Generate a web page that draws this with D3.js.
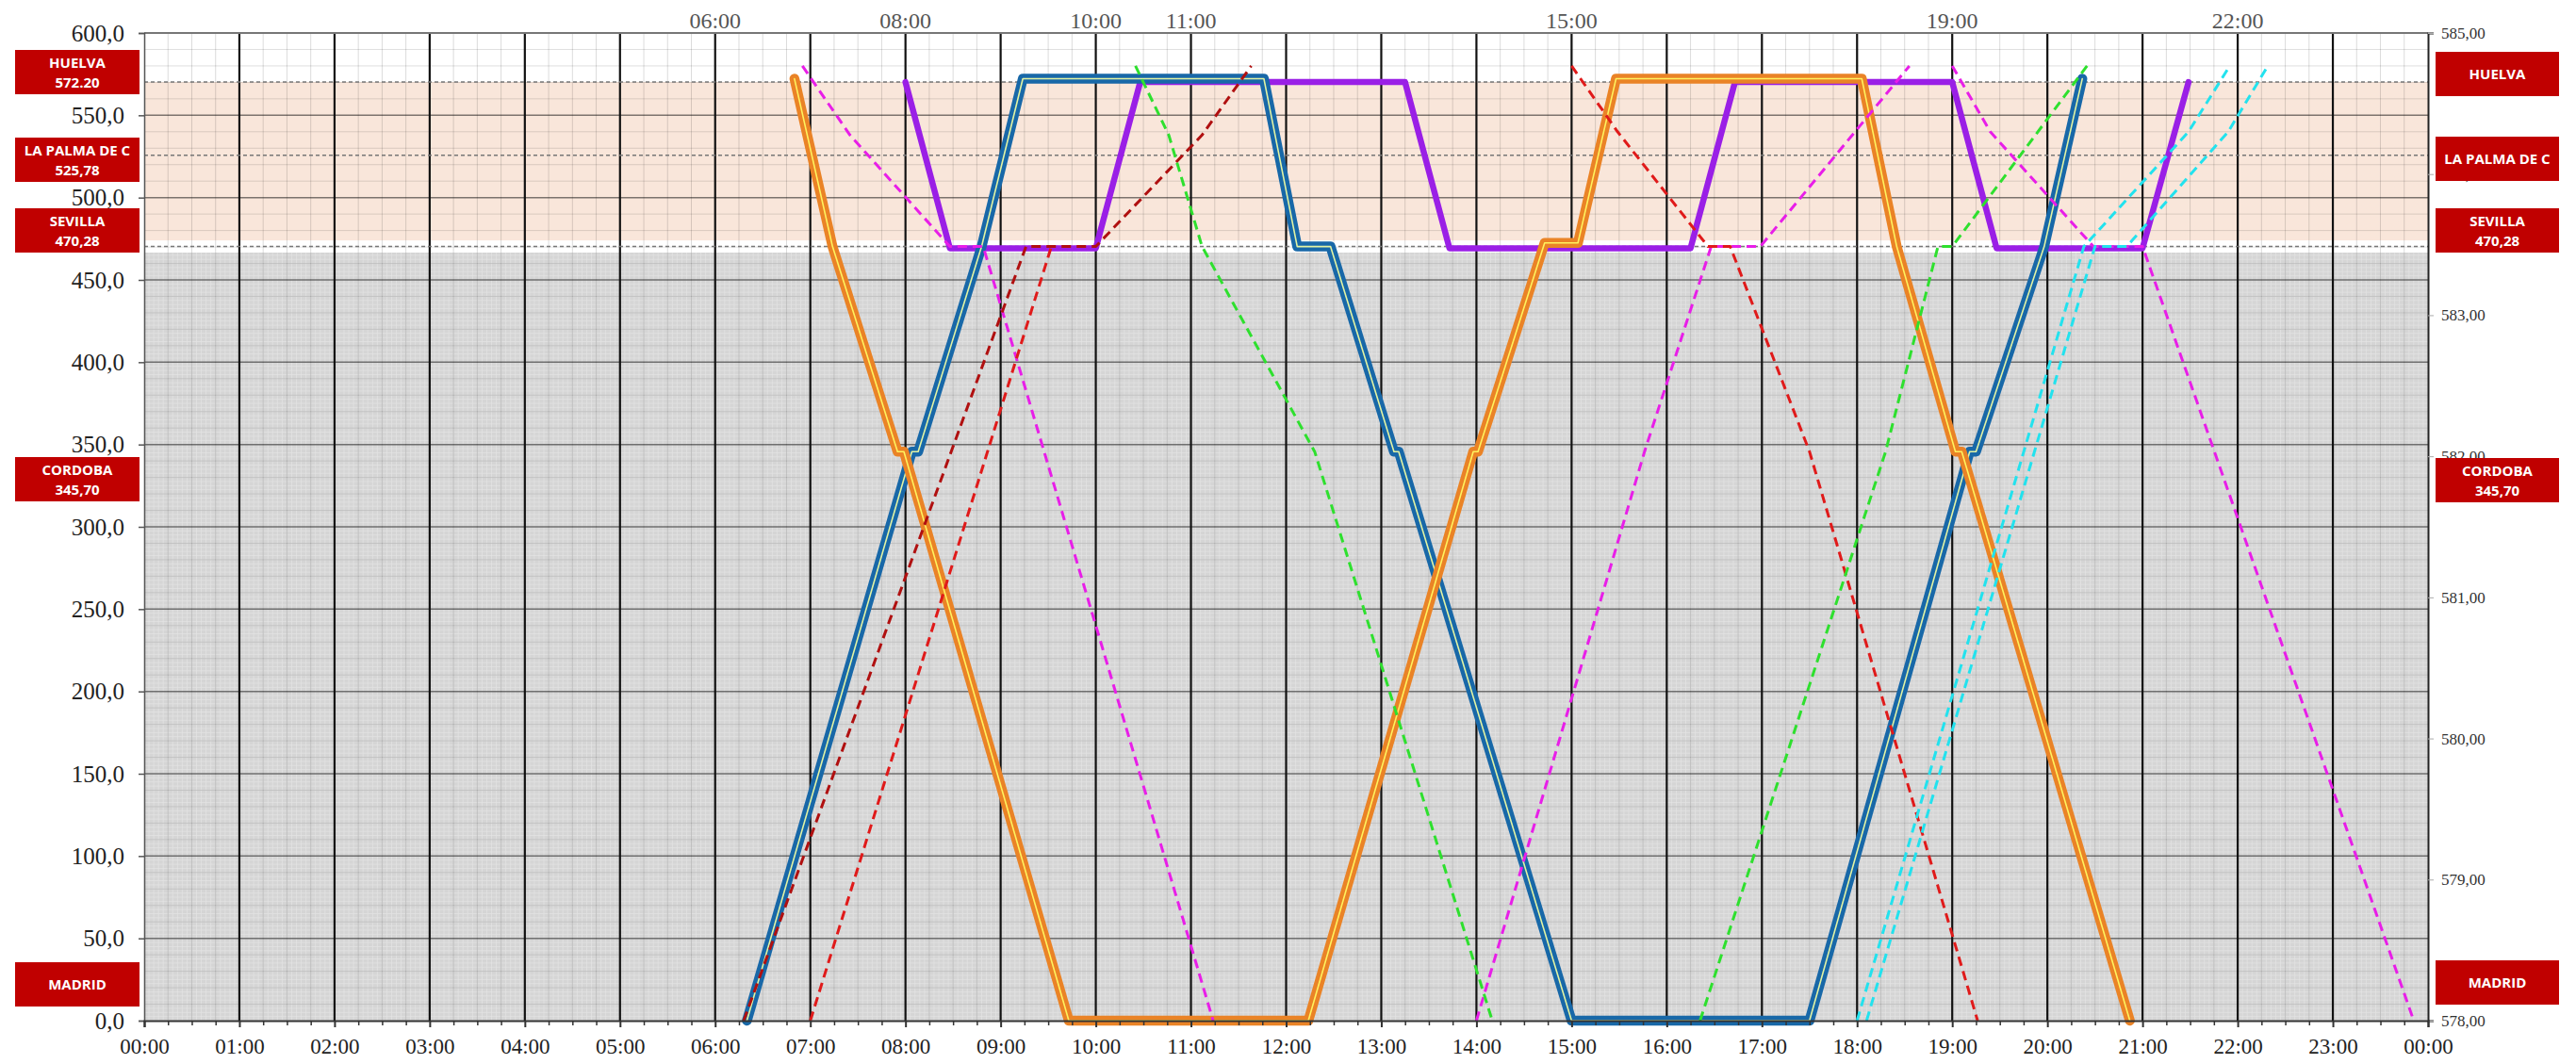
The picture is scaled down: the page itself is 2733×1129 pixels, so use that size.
<!DOCTYPE html>
<html>
<head>
<meta charset="utf-8">
<script src="https://cdn.jsdelivr.net/npm/d3@7"></script>
<style>
  body { margin: 0; background: #fff; }
  svg text { font-family: "Liberation Serif", "Times New Roman", serif; }
  .box text { font-family: "Open Sans", sans-serif; font-weight: 700; fill: #fff; }
</style>
</head>
<body>
<svg id="chart" width="2733" height="1129"></svg>
<script>
// ---- data (times as HH:MM, distance in km) ----
var stationNames = ["HUELVA", "LA PALMA DE C", "SEVILLA", "CORDOBA", "MADRID"];
var stationKm = [572.2, 525.78, 470.28, 345.7, 0];
var leftBoxText = [["HUELVA", "572.20"], ["LA PALMA DE C", "525,78"], ["SEVILLA", "470,28"], ["CORDOBA", "345,70"], ["MADRID"]];
var rightBoxText = [["HUELVA"], ["LA PALMA DE C"], ["SEVILLA", "470,28"], ["CORDOBA", "345,70"], ["MADRID"]];
var guideKm = [570.2, 525.78, 470.28];
var topTimeLabels = ["06:00", "08:00", "10:00", "11:00", "15:00", "19:00", "22:00"];

var blueTrain = [["06:20", 0], ["08:04", 345.7], ["08:08", 345.7], ["08:48", 470.28], ["09:14", 572.2],
  ["11:46", 572.2], ["12:07", 470.28], ["12:28", 470.28], ["13:08", 345.7], ["13:11", 345.7], ["15:00", 0],
  ["17:30", 0], ["19:11", 345.7], ["19:15", 345.7], ["19:58", 470.28], ["20:22", 572.2]];
var orangeTrain = [["06:50", 572.2], ["07:14", 470.28], ["07:55", 345.7], ["07:59", 345.7], ["09:43", 0],
  ["12:14", 0], ["13:58", 345.7], ["14:01", 345.7], ["14:43", 472.5], ["15:04", 472.5], ["15:28", 572.2],
  ["18:03", 572.2], ["18:25", 470.28], ["19:02", 345.7], ["19:06", 345.7], ["20:52", 0]];
var purpleTrain = [["08:00", 570.2], ["08:28", 469.2], ["10:00", 469.2], ["10:28", 570.2], ["13:15", 570.2],
  ["13:43", 469.2], ["16:15", 469.2], ["16:43", 570.2], ["19:00", 570.2], ["19:28", 469.2], ["21:00", 469.2],
  ["21:29", 570.2]];

var magentaTrains = [
  [["06:55", 580], ["07:25", 538], ["08:28", 470.28], ["08:49", 470.28], ["11:14", 0]],
  [["14:00", 0], ["15:46", 345.7], ["16:28", 470.28], ["16:59", 470.28], ["18:33", 580]],
  [["19:00", 580], ["19:24", 540], ["20:29", 470.28], ["21:00", 470.28], ["23:51", 0]]
];
var darkRedTrains = [
  [["06:18", 0], ["09:16", 470.28], ["10:00", 470.28], ["11:07", 538], ["11:38", 580]]
];
var redTrains = [
  [["07:00", 0], ["09:32", 470.28]],
  [["15:00", 580], ["15:29", 540], ["16:26", 470.28], ["16:40", 470.28], ["17:30", 345.7], ["19:16", 0]]
];
var greenTrains = [
  [["10:25", 580], ["10:46", 538], ["11:07", 470.28], ["12:18", 345.7], ["14:10", 0]],
  [["16:21", 0], ["18:18", 345.7], ["18:51", 470.28], ["19:00", 470.28], ["20:25", 580]]
];
var cyanTrains = [
  [["18:00", 0], ["20:23", 470.28], ["21:29", 540], ["21:55", 580]],
  [["18:06", 0], ["20:30", 470.28], ["20:50", 470.28], ["21:54", 540], ["22:19", 580]]
];

// ---- layout ----
var plotL = 153, plotR = 2576, plotT = 35, plotB = 1083;
var leftBoxY = [77, 170, 245, 509, 1045];
var rightBoxY = [79, 169, 245, 510, 1043];

function toH(s) {
  var p = s.split(":").map(Number);
  return p[0] + p[1] / 60;
}

var x = d3.scaleLinear().domain([0, 24]).range([plotL, plotR]);
var y = d3.scaleLinear().domain([0, 600]).range([plotB, plotT]);
var y2 = d3.scaleLinear().domain([578, 585]).range([plotB, plotT]);

var svg = d3.select("#chart");

// backgrounds
svg.append("rect").attr("x", plotL).attr("y", plotT).attr("width", plotR - plotL).attr("height", plotB - plotT)
  .attr("fill", "#fff");
svg.append("rect").attr("x", plotL).attr("y", y(570.2)).attr("width", plotR - plotL)
  .attr("height", y(474) - y(570.2)).attr("fill", "#f9e6da");
svg.append("rect").attr("x", plotL).attr("y", y(466.6)).attr("width", plotR - plotL)
  .attr("height", y(0) - y(466.6)).attr("fill", "#d5d5d5");

// fine graph-paper grid in the grey zone
var fine = svg.append("g").attr("stroke", "#ececec").attr("stroke-width", 0.8).attr("opacity", 0.6);
fine.selectAll("line.fv").data(d3.range(0, 24, 0.05)).join("line")
  .attr("x1", d => x(d)).attr("x2", d => x(d)).attr("y1", y(466.6)).attr("y2", y(0));
fine.selectAll("line.fh").data(d3.range(0, 466, 2.5)).join("line")
  .attr("x1", plotL).attr("x2", plotR).attr("y1", d => y(d)).attr("y2", d => y(d));

// minor grid
var grid = svg.append("g");
grid.selectAll("line.mv").data(d3.range(0, 24, 0.25).filter(d => d % 1 !== 0)).join("line")
  .attr("x1", d => x(d)).attr("x2", d => x(d)).attr("y1", plotT).attr("y2", plotB)
  .attr("stroke", "rgba(0,0,0,0.14)").attr("stroke-width", 1);
grid.selectAll("line.mh").data(d3.range(10, 600, 10).filter(d => d % 50 !== 0)).join("line")
  .attr("x1", plotL).attr("x2", plotR).attr("y1", d => y(d)).attr("y2", d => y(d))
  .attr("stroke", "rgba(0,0,0,0.13)").attr("stroke-width", 1);
grid.selectAll("line.Mh").data(d3.range(50, 600, 50)).join("line")
  .attr("x1", plotL).attr("x2", plotR).attr("y1", d => y(d)).attr("y2", d => y(d))
  .attr("stroke", "rgba(0,0,0,0.5)").attr("stroke-width", 1.5);
grid.selectAll("line.Mv").data(d3.range(1, 24)).join("line")
  .attr("x1", d => x(d)).attr("x2", d => x(d)).attr("y1", plotT).attr("y2", plotB)
  .attr("stroke", "#111").attr("stroke-width", 2.2);

// station guide lines
svg.append("g").selectAll("line").data(guideKm).join("line")
  .attr("x1", plotL).attr("x2", plotR).attr("y1", d => y(d)).attr("y2", d => y(d))
  .attr("stroke", "#777").attr("stroke-width", 1.5).attr("stroke-dasharray", "4,3");

// top border
svg.append("line").attr("x1", plotL).attr("x2", plotR).attr("y1", plotT).attr("y2", plotT)
  .attr("stroke", "#777").attr("stroke-width", 2);

// ---- trains ----
var line = d3.line().x(d => x(toH(d[0]))).y(d => y(d[1]));
var trains = svg.append("g").attr("fill", "none").attr("stroke-linejoin", "round").attr("stroke-linecap", "round");

trains.append("path").datum(purpleTrain).attr("d", line).attr("stroke", "#9a1fe6").attr("stroke-width", 6.5);

function doubleLine(data, outer, inner) {
  trains.append("path").datum(data).attr("d", line).attr("stroke", outer).attr("stroke-width", 10.5);
  trains.append("path").datum(data).attr("d", line).attr("stroke", inner).attr("stroke-width", 1.6);
}
doubleLine(blueTrain, "#1868a8", "#e2f3a4");
doubleLine(orangeTrain, "#ea8326", "#fff25e");

function dashed(list, color) {
  list.forEach(function (d) {
    trains.append("path").datum(d).attr("d", line).attr("stroke", color)
      .attr("stroke-width", 3).attr("stroke-dasharray", "10,6").attr("stroke-linecap", "butt");
  });
}
dashed(magentaTrains, "#e81ee8");
dashed(darkRedTrains, "#b01010");
dashed(redTrains, "#e01a1a");
dashed(greenTrains, "#2ee02e");
dashed(cyanTrains, "#22e2ee");

// ---- axes ----
var commaFmt = function (f) { return d => d3.format(f)(d).replace(".", ","); };

var yAxis = svg.append("g").attr("transform", "translate(" + plotL + ",0)")
  .call(d3.axisLeft(y).tickValues(d3.range(0, 601, 50)).tickSize(6).tickPadding(15).tickFormat(commaFmt(".1f")));
yAxis.selectAll("text").attr("font-size", 25).attr("fill", "#222")
  .style("font-family", "'Liberation Serif', serif");
yAxis.selectAll("line, path").attr("stroke", "#555").attr("stroke-width", 1.5);

var y2Axis = svg.append("g").attr("transform", "translate(" + plotR + ",0)")
  .call(d3.axisRight(y2).ticks(7).tickSize(6).tickPadding(8).tickFormat(commaFmt(".2f")));
y2Axis.selectAll("text").attr("font-size", 17).attr("fill", "#333")
  .style("font-family", "'Liberation Serif', serif");
y2Axis.selectAll("line").attr("stroke", "#aaa");
y2Axis.select("path").attr("stroke", "#222").attr("stroke-width", 2);

var xAxis = svg.append("g").attr("transform", "translate(0," + plotB + ")")
  .call(d3.axisBottom(x).tickValues(d3.range(0, 25)).tickSize(7).tickPadding(12)
    .tickFormat(d => d3.format("02d")(d % 24) + ":00"));
xAxis.selectAll("text").attr("font-size", 23).attr("fill", "#222")
  .style("font-family", "'Liberation Serif', serif");
xAxis.selectAll("line, path").attr("stroke", "#333").attr("stroke-width", 2);

var xMinor = svg.append("g").attr("transform", "translate(0," + plotB + ")")
  .call(d3.axisBottom(x).tickValues(d3.range(0, 24, 0.25).filter(d => d % 1 !== 0)).tickSize(5).tickFormat(""));
xMinor.select("path").remove();
xMinor.selectAll("line").attr("stroke", "#333").attr("stroke-width", 1.5);

// top time labels
svg.append("g").selectAll("text").data(topTimeLabels).join("text")
  .attr("x", d => x(toH(d))).attr("y", 30).attr("text-anchor", "middle")
  .attr("font-size", 24).attr("fill", "#555").text(d => d);

// ---- station boxes ----
function boxes(texts, ys, x0, w) {
  var g = svg.append("g").attr("class", "box");
  texts.forEach(function (t, i) {
    var cy = ys[i];
    g.append("rect").attr("x", x0).attr("y", cy - 24).attr("width", w).attr("height", 47).attr("fill", "#c00000");
    t.forEach(function (s, j) {
      var off = t.length === 1 ? 0 : (j === 0 ? -10.5 : 10.5);
      g.append("text").attr("x", x0 + w / 2).attr("y", cy + off).attr("dy", "0.36em")
        .attr("text-anchor", "middle").attr("font-size", 15).text(s);
    });
  });
}
boxes(leftBoxText, leftBoxY, 16, 132);
boxes(rightBoxText, rightBoxY, 2584, 131);
</script>
</body>
</html>
